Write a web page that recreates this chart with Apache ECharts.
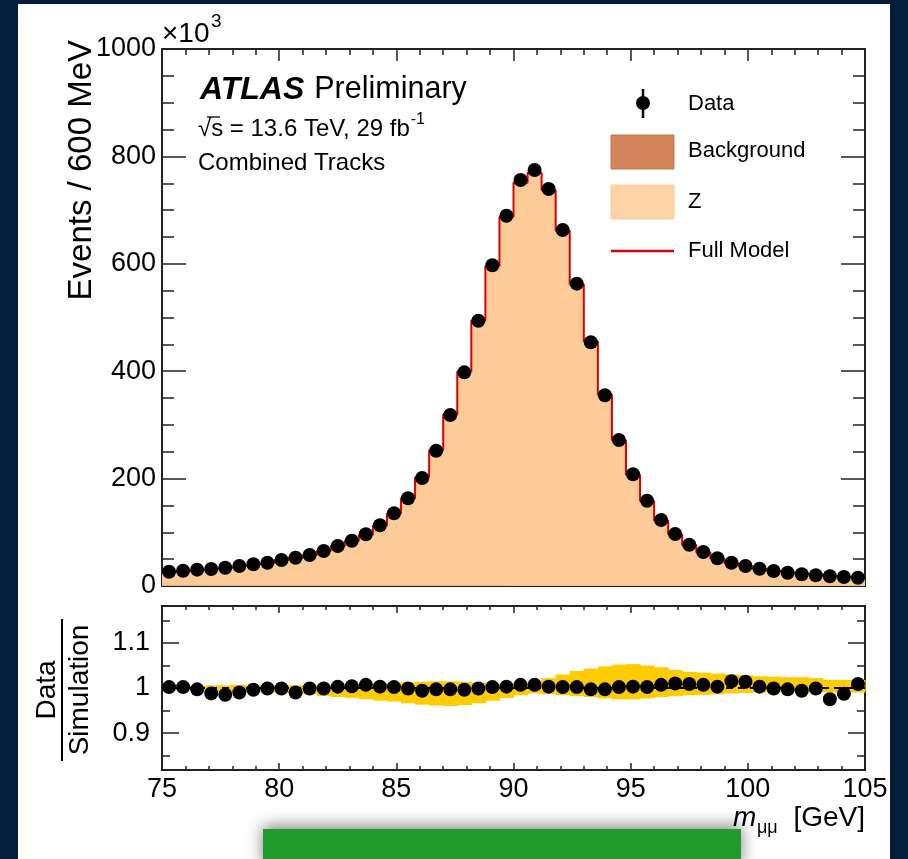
<!DOCTYPE html>
<html><head><meta charset="utf-8">
<script src="https://cdn.jsdelivr.net/npm/echarts@6/dist/echarts.min.js"></script>
<style>html,body{margin:0;padding:0;background:#031d3a;}#c{width:908px;height:859px;}</style>
</head><body><div id="c"></div>
<script>
// ---- data (events in units of 10^3 per 600 MeV bin) ----
const xMin = 75, xMax = 105, binWidth = 0.6;
const dataEvents = [26.6,28.5,30.4,31.7,34.1,37.2,40.4,43.4,48.4,52.7,
  57.7,65.2,74.5,84.4,96.3,113.0,135.4,163.3,201.1,252.0,
  318.4,397.9,494.0,597.2,689.6,756.0,774.7,739.3,662.9,563.0,
  453.8,355.1,271.9,208.0,158.8,122.9,96.8,76.9,63.3,51.6,
  43.4,37.2,32.2,27.9,24.8,21.8,19.9,18.1,16.8,15.5];
const fullModel = [26.6,28.5,30.5,32.1,34.6,37.6,40.6,43.4,48.4,53.2,
  57.8,65.3,74.3,84.1,95.6,112.7,135.1,163.5,202.3,252.8,
  319.4,399.5,494.5,596.0,687.5,750.7,769.3,737.1,661.6,561.9,
  455.2,356.2,271.4,207.4,158.5,122.0,95.8,76.2,62.9,51.4,
  42.8,36.7,32.1,27.9,24.9,21.9,19.9,18.6,17.0,15.4];
const background = [0.9,0.9,0.9,0.9,0.9,0.9,0.8,0.8,0.8,0.8,
  0.8,0.8,0.8,0.8,0.7,0.7,0.7,0.7,0.7,0.7,
  0.7,0.7,0.7,0.7,0.6,0.6,0.6,0.6,0.6,0.6,
  0.6,0.6,0.6,0.5,0.5,0.5,0.5,0.5,0.5,0.5,
  0.5,0.5,0.4,0.4,0.4,0.4,0.4,0.4,0.4,0.4];
const ratio = [1.002,1.002,0.997,0.988,0.985,0.990,0.996,0.999,0.999,0.990,
  0.999,0.999,1.003,1.004,1.007,1.003,1.002,0.999,0.994,0.997,
  0.997,0.996,0.999,1.002,1.003,1.007,1.007,1.003,1.002,1.002,
  0.997,0.997,1.002,1.003,1.002,1.007,1.010,1.009,1.007,1.003,
  1.015,1.014,1.003,0.999,0.997,0.994,0.999,0.975,0.987,1.009];
const bandLow = [0.997,0.996,0.995,0.992,0.991,0.990,0.990,0.990,0.989,0.988,
  0.986,0.982,0.980,0.978,0.975,0.972,0.970,0.966,0.963,0.961,
  0.960,0.962,0.966,0.972,0.978,0.984,0.988,0.986,0.984,0.982,
  0.980,0.977,0.975,0.975,0.977,0.980,0.982,0.984,0.985,0.986,
  0.988,0.989,0.990,0.991,0.992,0.992,0.991,0.990,0.990,0.990];
const bandHigh = [1.003,1.004,1.005,1.006,1.006,1.007,1.006,1.006,1.006,1.006,
  1.006,1.007,1.008,1.008,1.010,1.011,1.012,1.013,1.014,1.015,
  1.015,1.014,1.012,1.010,1.010,1.012,1.016,1.022,1.030,1.038,
  1.043,1.048,1.052,1.053,1.050,1.046,1.040,1.036,1.034,1.032,
  1.030,1.028,1.026,1.025,1.024,1.024,1.022,1.018,1.018,1.018];
const ratioMajorTicks = [0.9, 1.0, 1.1];
const ratioMinorTicks = [0.85, 0.95, 1.05, 1.15];

// ---- derived bin geometry ----
const nBins = dataEvents.length;
const edges = [], centers = [];
for (let i = 0; i <= nBins; i++) edges.push(+(xMin + i * binWidth).toFixed(2));
for (let i = 0; i < nBins; i++) centers.push(+(xMin + (i + 0.5) * binWidth).toFixed(2));
function stepData(vals) {
  const d = vals.map((v, i) => [edges[i], v]);
  d.push([edges[nBins], vals[nBins - 1]]);
  return d;
}

const FONT = 'Liberation Sans';
const AX = '#222';
const mctx = document.createElement('canvas').getContext('2d');
function textW(txt, font) { mctx.font = font; return mctx.measureText(txt).width; }

const chart = echarts.init(document.getElementById('c'), null, {renderer: 'canvas'});

function xAx(grid, pos, labels, major, minor) {
  return {type: 'value', gridIndex: grid, position: pos, min: xMin, max: xMax, interval: 5,
    axisLine: {show: true, onZero: false, lineStyle: {color: AX, width: 2}},
    axisTick: {show: true, inside: true, length: major, lineStyle: {color: AX, width: 1.5}},
    minorTick: {show: true, splitNumber: 5, length: minor, lineStyle: {color: AX, width: 1.5}},
    splitLine: {show: false}, minorSplitLine: {show: false},
    axisLabel: {show: labels, color: '#000', fontFamily: FONT, fontSize: 27, margin: 6,
      formatter: v => String(v)}};
}
function yMain(pos, labels) {
  return {type: 'value', gridIndex: 0, position: pos, min: 0, max: 1000, interval: 200,
    axisLine: {show: true, onZero: false, lineStyle: {color: AX, width: 2}},
    axisTick: {show: true, inside: true, length: 24, lineStyle: {color: AX, width: 1.5}},
    minorTick: {show: true, splitNumber: 4, length: 12, lineStyle: {color: AX, width: 1.5}},
    splitLine: {show: false}, minorSplitLine: {show: false},
    axisLabel: {show: labels, color: '#000', fontFamily: FONT, fontSize: 27, margin: 6,
      formatter: v => String(v)}};
}
function yRatio(pos, ticks, len, labels) {
  return {type: 'value', gridIndex: 1, position: pos, min: 0.818, max: 1.182,
    axisLine: {show: true, onZero: false, lineStyle: {color: AX, width: 2}},
    axisTick: {show: true, inside: true, length: len, customValues: ticks, lineStyle: {color: AX, width: 1.5}},
    splitLine: {show: false},
    axisLabel: {show: labels, customValues: ticks, color: '#000', fontFamily: FONT, fontSize: 27, margin: 12,
      formatter: v => String(+v.toFixed(2))}};
}

const fSqrt = '24px ' + FONT;
const sqrtText = '\u221as = 13.6 TeV, 29 fb';
const sqrtEnd = 198 + textW(sqrtText, fSqrt);
const fAtlas = 'italic bold 32px ' + FONT;
const atlasEnd = 200 + textW('ATLAS', fAtlas);

const option = {
  backgroundColor: '#031d3a',
  animation: false,
  grid: [
    {left: 162, top: 49, width: 703, height: 537, outerBoundsMode: 'none'},
    {left: 162, top: 606, width: 703, height: 164, outerBoundsMode: 'none'}
  ],
  xAxis: [xAx(0, 'bottom', false, 12, 6), xAx(0, 'top', false, 12, 6),
          xAx(1, 'bottom', true, 7, 4), xAx(1, 'top', false, 7, 4)],
  yAxis: [yMain('left', true), yMain('right', false),
          yRatio('left', ratioMajorTicks, 17, true), yRatio('left', ratioMinorTicks, 8, false),
          yRatio('right', ratioMajorTicks, 17, false), yRatio('right', ratioMinorTicks, 8, false)],
  graphic: [
    {type: 'rect', z: -10, shape: {x: 18, y: 4, width: 872, height: 870}, style: {fill: '#ffffff'}},
    {type: 'rect', z: -9, shape: {x: 263, y: 829, width: 478, height: 40},
      style: {fill: '#1f9a2b', shadowBlur: 16, shadowColor: 'rgba(0,0,0,0.5)', shadowOffsetY: -3}},
    // x10^3
    {type: 'text', style: {x: 162, y: 34, text: '\u00d710', font: '28px ' + FONT, fill: '#000', textVerticalAlign: 'middle'}},
    {type: 'text', style: {x: 211, y: 22, text: '3', font: '19px ' + FONT, fill: '#000', textVerticalAlign: 'middle'}},
    // y title
    {type: 'text', x: 82, y: 40, rotation: Math.PI / 2,
      style: {x: 0, y: 0, text: 'Events / 600 MeV', font: '33px ' + FONT, fill: '#000', textAlign: 'right', textVerticalAlign: 'middle'}},
    // ratio y title
    {type: 'text', x: 47, y: 690, rotation: Math.PI / 2,
      style: {x: 0, y: 0, text: 'Data', font: '28px ' + FONT, fill: '#000', textAlign: 'center', textVerticalAlign: 'middle'}},
    {type: 'line', shape: {x1: 62, y1: 619, x2: 62, y2: 761}, style: {stroke: '#000', lineWidth: 2}},
    {type: 'text', x: 80, y: 690, rotation: Math.PI / 2,
      style: {x: 0, y: 0, text: 'Simulation', font: '28px ' + FONT, fill: '#000', textAlign: 'center', textVerticalAlign: 'middle'}},
    // x title
    {type: 'text', style: {x: 865, y: 818, text: '[GeV]', font: '28px ' + FONT, fill: '#000', textAlign: 'right', textVerticalAlign: 'middle'}},
    {type: 'text', style: {x: 757, y: 828, text: '\u03bc\u03bc', font: '18px ' + FONT, fill: '#000', textVerticalAlign: 'middle'}},
    {type: 'text', style: {x: 733, y: 818, text: 'm', font: 'italic 28px ' + FONT, fill: '#000', textVerticalAlign: 'middle'}},
    // ATLAS label
    {type: 'text', style: {x: 200, y: 90, text: 'ATLAS', font: fAtlas, fill: '#000', textVerticalAlign: 'middle'}},
    {type: 'text', style: {x: atlasEnd + 10, y: 90, text: 'Preliminary', font: '30.5px ' + FONT, fill: '#000', textVerticalAlign: 'middle'}},
    {type: 'text', style: {x: 198, y: 129, text: sqrtText, font: fSqrt, fill: '#000', textVerticalAlign: 'middle'}},
    {type: 'line', shape: {x1: 207, y1: 117, x2: 220, y2: 117}, style: {stroke: '#000', lineWidth: 1.3}},
    {type: 'text', style: {x: sqrtEnd + 1, y: 120, text: '-1', font: '16px ' + FONT, fill: '#000', textVerticalAlign: 'middle'}},
    {type: 'text', style: {x: 198, y: 163, text: 'Combined Tracks', font: '24px ' + FONT, fill: '#000', textVerticalAlign: 'middle'}},
    // legend
    {type: 'line', shape: {x1: 643, y1: 89, x2: 643, y2: 118}, style: {stroke: '#000', lineWidth: 2.5}},
    {type: 'circle', shape: {cx: 643, cy: 103, r: 7}, style: {fill: '#000'}},
    {type: 'text', style: {x: 688, y: 104, text: 'Data', font: '22px ' + FONT, fill: '#000', textVerticalAlign: 'middle'}},
    {type: 'rect', shape: {x: 611, y: 135, width: 63, height: 34}, style: {fill: '#d4845a', stroke: '#c8774c', lineWidth: 1}},
    {type: 'text', style: {x: 688, y: 151, text: 'Background', font: '22px ' + FONT, fill: '#000', textVerticalAlign: 'middle'}},
    {type: 'rect', shape: {x: 611, y: 185, width: 63, height: 34}, style: {fill: '#fed3a8', stroke: '#fccc9c', lineWidth: 1}},
    {type: 'text', style: {x: 688, y: 202, text: 'Z', font: '22px ' + FONT, fill: '#000', textVerticalAlign: 'middle'}},
    {type: 'line', shape: {x1: 611, y1: 251, x2: 674, y2: 251}, style: {stroke: '#dd0000', lineWidth: 2.5}},
    {type: 'text', style: {x: 688, y: 251, text: 'Full Model', font: '22px ' + FONT, fill: '#000', textVerticalAlign: 'middle'}}
  ],
  series: [
    {name: 'Z', type: 'line', step: 'end', xAxisIndex: 0, yAxisIndex: 0, data: stepData(fullModel),
      symbol: 'none', lineStyle: {width: 0}, areaStyle: {color: '#fdcb97', opacity: 1}, z: 1},
    {name: 'Background', type: 'line', step: 'end', xAxisIndex: 0, yAxisIndex: 0, data: stepData(background),
      symbol: 'none', lineStyle: {width: 0}, areaStyle: {color: '#d4845a', opacity: 1}, z: 2},
    {name: 'Full Model', type: 'line', step: 'end', xAxisIndex: 0, yAxisIndex: 0, data: stepData(fullModel),
      symbol: 'none', lineStyle: {color: '#dd0000', width: 2}, z: 3},
    {name: 'Data', type: 'scatter', xAxisIndex: 0, yAxisIndex: 0,
      data: centers.map((c, i) => [c, dataEvents[i]]), symbol: 'circle', symbolSize: 14,
      itemStyle: {color: '#000', opacity: 1}, z: 5},
    {name: 'Uncertainty', type: 'custom', xAxisIndex: 2, yAxisIndex: 2,
      data: centers.map((c, i) => [edges[i], edges[i + 1], bandLow[i], bandHigh[i]]),
      encode: {x: [0, 1], y: [2, 3]},
      renderItem: function (params, api) {
        const p0 = api.coord([api.value(0), api.value(3)]);
        const p1 = api.coord([api.value(1), api.value(2)]);
        return {type: 'rect', shape: {x: p0[0], y: p0[1], width: p1[0] - p0[0] + 0.6, height: p1[1] - p0[1]},
          style: {fill: '#ffcc00'}};
      }, z: 1},
    {name: 'Unity', type: 'line', xAxisIndex: 2, yAxisIndex: 2, data: [[xMin, 1], [xMax, 1]],
      symbol: 'none', lineStyle: {color: '#000', width: 2, type: [7, 5]}, z: 2},
    {name: 'Ratio', type: 'scatter', xAxisIndex: 2, yAxisIndex: 2,
      data: centers.map((c, i) => [c, ratio[i]]), symbol: 'circle', symbolSize: 14,
      itemStyle: {color: '#000', opacity: 1}, z: 5}
  ]
};
chart.setOption(option);
</script></body></html>
